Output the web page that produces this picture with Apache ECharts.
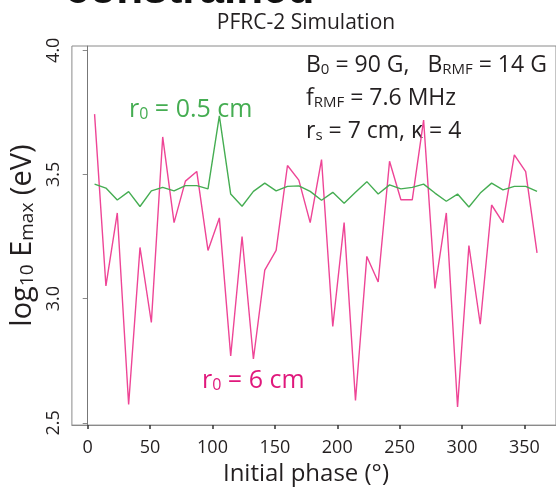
<!DOCTYPE html>
<html><head><meta charset="utf-8">
<script src="https://cdn.jsdelivr.net/npm/echarts@6/dist/echarts.min.js"></script>
<style>html,body{margin:0;padding:0;background:#fff}#c{width:556px;height:491px}</style>
</head><body><div id="c"></div>
<script>
// Initial phase (degrees) of each simulation run
const phases = [5.5, 14.6, 23.7, 32.8, 41.9, 51.0, 60.1, 69.2, 78.3, 87.4,
  96.4, 105.5, 114.6, 123.7, 132.8, 141.9, 151.0, 160.1, 169.2, 178.3,
  187.4, 196.4, 205.5, 214.6, 223.7, 232.8, 241.9, 251.0, 260.1, 269.2,
  278.3, 287.4, 296.4, 305.5, 314.6, 323.7, 332.8, 341.9, 351.0, 360.1];
// log10 Emax (eV), r0 = 6 cm
const emaxR6 = [3.743, 3.051, 3.345, 2.574, 3.206, 2.904, 3.651, 3.306, 3.473, 3.512,
  3.194, 3.325, 2.769, 3.250, 2.757, 3.115, 3.194, 3.536, 3.477, 3.306,
  3.560, 2.888, 3.306, 2.590, 3.170, 3.067, 3.553, 3.398, 3.398, 3.719,
  3.041, 3.345, 2.564, 3.214, 2.897, 3.377, 3.306, 3.579, 3.511, 3.184];
// log10 Emax (eV), r0 = 0.5 cm
const emaxR05 = [3.461, 3.445, 3.397, 3.431, 3.371, 3.434, 3.448, 3.434, 3.455, 3.455,
  3.442, 3.736, 3.421, 3.372, 3.432, 3.465, 3.434, 3.452, 3.454, 3.432,
  3.396, 3.428, 3.384, 3.428, 3.471, 3.421, 3.458, 3.442, 3.448, 3.461,
  3.425, 3.392, 3.421, 3.369, 3.425, 3.465, 3.438, 3.452, 3.452, 3.432];
const xTicks = [0, 50, 100, 150, 200, 250, 300, 350];
const yTicks = [2.5, 3.0, 3.5, 4.0];

const FONT = '"Open Sans", "Noto Sans", sans-serif';
const TXT = '#231f20';
const AX = '#8a8a8a';
const PINK = '#ee4596';
const GREEN = '#45ad52';
const LABEL_PINK = '#e0187c';

const chart = echarts.init(document.getElementById('c'), null, {renderer: 'canvas'});
const pair = (ys) => phases.map((p, i) => [p, ys[i]]);

chart.setOption({
  animation: false,
  backgroundColor: '#fff',
  grid: {left: 70, top: 46, width: 490, height: 384, show: true, borderColor: AX, borderWidth: 1, containLabel: false},
  title: {
    text: 'PFRC-2 Simulation', left: 301, top: 8, textAlign: 'center',
    textStyle: {fontFamily: FONT, fontSize: 21, fontWeight: 'normal', color: TXT}
  },
  xAxis: {
    type: 'value', min: -12.67, max: 375.3,
    name: 'Initial phase (°)', nameLocation: 'middle', nameGap: 30,
    nameTextStyle: {fontFamily: FONT, fontSize: 24, color: TXT, padding: [0, 16, 0, 0]},
    axisLine: {show: true, lineStyle: {color: AX, width: 1}},
    axisTick: {show: true, customValues: xTicks, length: 4, lineStyle: {color: '#333', width: 1.5}},
    axisLabel: {customValues: xTicks, fontFamily: FONT, fontSize: 18, color: TXT, margin: 14},
    splitLine: {show: false}
  },
  yAxis: {
    type: 'value', min: 2.4909, max: 4.0171,
    name: '{n|log}{s|10}{n| E}{s|max}{n| (eV)}', nameLocation: 'middle', nameRotate: 90, nameGap: 30,
    nameTextStyle: {
      fontFamily: FONT, color: TXT,
      rich: {
        n: {fontFamily: FONT, fontSize: 29, color: TXT, verticalAlign: 'bottom', lineHeight: 34},
        s: {fontFamily: FONT, fontSize: 19, color: TXT, verticalAlign: 'bottom', lineHeight: 34}
      }
    },
    axisLine: {show: true, lineStyle: {color: AX, width: 1}},
    axisTick: {show: true, customValues: yTicks, length: 5, lineStyle: {color: AX, width: 1}},
    axisLabel: {customValues: yTicks, rotate: 90, fontFamily: FONT, fontSize: 18, color: TXT, margin: 9,
      formatter: (v) => v.toFixed(1)},
    splitLine: {show: false}
  },
  graphic: [
    {type: 'text', left: 65, top: -31, silent: true,
      style: {text: 'constrained', fontFamily: '"Liberation Sans", Arial, sans-serif', fontSize: 44, fontWeight: 'bold', fill: '#111'}},
    {type: 'text', x: 306, y: 44, silent: true,
      style: {
        text: '{n|B}{s|0}{n| = 90 G,   B}{s|RMF}{n| = 14 G}\n{n|f}{s|RMF}{n| = 7.6 MHz}\n{n|r}{s|s}{n| = 7 cm, κ = 4}',
        verticalAlign: 'top',
        rich: {
          n: {fontFamily: FONT, fontSize: 23, fill: TXT, lineHeight: 30, verticalAlign: 'bottom'},
          s: {fontFamily: FONT, fontSize: 15, fill: TXT, lineHeight: 33, verticalAlign: 'bottom'}
        }
      }},
    {type: 'text', x: 129, y: 106, silent: true,
      style: {
        text: '{n|r}{s|0}{n| = 0.5 cm}', verticalAlign: 'middle',
        rich: {
          n: {fontFamily: FONT, fontSize: 25, fill: GREEN, lineHeight: 30, verticalAlign: 'bottom'},
          s: {fontFamily: FONT, fontSize: 16, fill: GREEN, lineHeight: 33, verticalAlign: 'bottom'}
        }
      }},
    {type: 'text', x: 202, y: 377, silent: true,
      style: {
        text: '{n|r}{s|0}{n| = 6 cm}', verticalAlign: 'middle',
        rich: {
          n: {fontFamily: FONT, fontSize: 25, fill: LABEL_PINK, lineHeight: 30, verticalAlign: 'bottom'},
          s: {fontFamily: FONT, fontSize: 16, fill: LABEL_PINK, lineHeight: 33, verticalAlign: 'bottom'}
        }
      }}
  ],
  series: [
    {
      name: 'r0 = 6 cm', type: 'line', data: pair(emaxR6), showSymbol: false, symbol: 'none',
      lineStyle: {color: PINK, width: 1.4}, itemStyle: {color: PINK}, z: 2,
      markLine: {silent: true, symbol: 'none', label: {show: false},
        lineStyle: {color: '#777', width: 1, type: 'solid'}, data: [{xAxis: 0}]}
    },
    {
      name: 'r0 = 0.5 cm', type: 'line', data: pair(emaxR05), showSymbol: false, symbol: 'none',
      lineStyle: {color: GREEN, width: 1.4}, itemStyle: {color: GREEN}, z: 3
    }
  ]
});
</script>
</body></html>
